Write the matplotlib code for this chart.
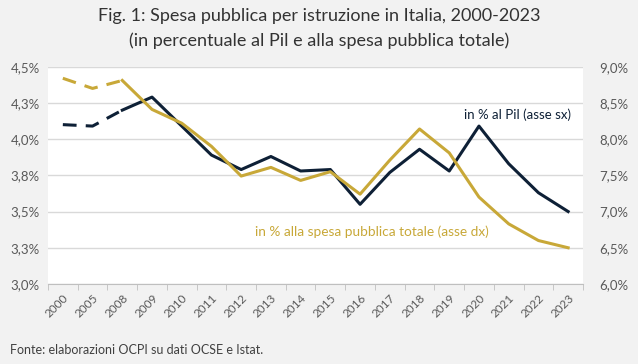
import matplotlib.pyplot as plt
from matplotlib.ticker import FuncFormatter

plt.rcParams['font.family'] = ['Lato', 'DejaVu Sans']

# dati
anni = ["2000", "2005", "2008", "2009", "2010", "2011", "2012", "2013", "2014",
        "2015", "2016", "2017", "2018", "2019", "2020", "2021", "2022", "2023"]
pil = [4.10, 4.09, 4.20, 4.29, 4.09, 3.89, 3.79, 3.88, 3.78,
       3.79, 3.55, 3.77, 3.93, 3.78, 4.09, 3.83, 3.63, 3.50]
spesa_tot = [8.84, 8.70, 8.81, 8.41, 8.22, 7.90, 7.49, 7.61, 7.43,
             7.55, 7.24, 7.71, 8.14, 7.81, 7.20, 6.83, 6.60, 6.50]
n_tratteggio = 3  # 2000, 2005, 2008 collegati con linea tratteggiata

blu = "#0e2036"
oro = "#c8a838"
grigio = "#595959"
sfondo = "#f2f2f2"

fig = plt.figure(figsize=(6.38, 3.64), dpi=100, facecolor=sfondo)
ax = fig.add_axes([0.0752, 0.2198, 0.8386, 0.597])
ax2 = ax.twinx()
ax.set_facecolor("white")

x = list(range(len(anni)))
k = n_tratteggio
trat = (0, (4.5, 3))

ax.plot(x[:k], pil[:k], color=blu, lw=2.2, ls=trat)
ax.plot(x[k - 1:], pil[k - 1:], color=blu, lw=2.2)
ax2.plot(x[:k], spesa_tot[:k], color=oro, lw=2.2, ls=trat)
ax2.plot(x[k - 1:], spesa_tot[k - 1:], color=oro, lw=2.2)

ax.set_xlim(-0.5, len(anni) - 0.5)
ax.set_ylim(3.0, 4.5)
ax2.set_ylim(6.0, 9.0)
ax.set_yticks([3.0, 3.25, 3.5, 3.75, 4.0, 4.25, 4.5])
ax2.set_yticks([6.0, 6.5, 7.0, 7.5, 8.0, 8.5, 9.0])

fmt = FuncFormatter(lambda v, p: f"{v:.1f}%".replace(".", ","))
ax.yaxis.set_major_formatter(FuncFormatter(lambda v, p: f"{round(v + 1e-9, 1):.1f}%".replace(".", ",")))
ax2.yaxis.set_major_formatter(fmt)

ax.grid(axis="y", color="#d9d9d9", lw=1)
ax.set_axisbelow(True)

# tick asse x ai bordi delle categorie
ax.set_xticks(x)
ax.set_xticklabels(anni, rotation=45, ha="right", rotation_mode="anchor", fontsize=8.5, color=grigio)
ax.set_xticks([i - 0.5 for i in range(len(anni) + 1)], minor=True)
ax.tick_params(axis="x", which="major", length=0, pad=6)
ax.tick_params(axis="x", which="minor", length=4, color="#bfbfbf")
ax.tick_params(axis="y", length=0, labelsize=9.5, labelcolor=grigio, pad=6)
ax2.tick_params(axis="y", length=0, labelsize=9.5, labelcolor=grigio, pad=12)

for a in (ax, ax2):
    for s in a.spines.values():
        s.set_visible(False)
ax.spines["bottom"].set_visible(True)
ax.spines["bottom"].set_color("#bfbfbf")

ax.text(17.1, 4.17, "in % al Pil (asse sx)", color=blu, fontsize=9.5, ha="right", va="center")
ax.text(6.47, 3.36, "in % alla spesa pubblica totale (asse dx)", color=oro, fontsize=9.8, ha="left", va="center")

fig.text(0.5, 0.955, "Fig. 1: Spesa pubblica per istruzione in Italia, 2000-2023",
         ha="center", va="center", fontsize=13, color="#333333")
fig.text(0.5, 0.887, "(in percentuale al Pil e alla spesa pubblica totale)",
         ha="center", va="center", fontsize=13, color="#333333")
fig.text(0.016, 0.038, "Fonte: elaborazioni OCPI su dati OCSE e Istat.",
         ha="left", va="center", fontsize=9, color="#404040")

fig.savefig("out.png", dpi=100, facecolor=sfondo)
